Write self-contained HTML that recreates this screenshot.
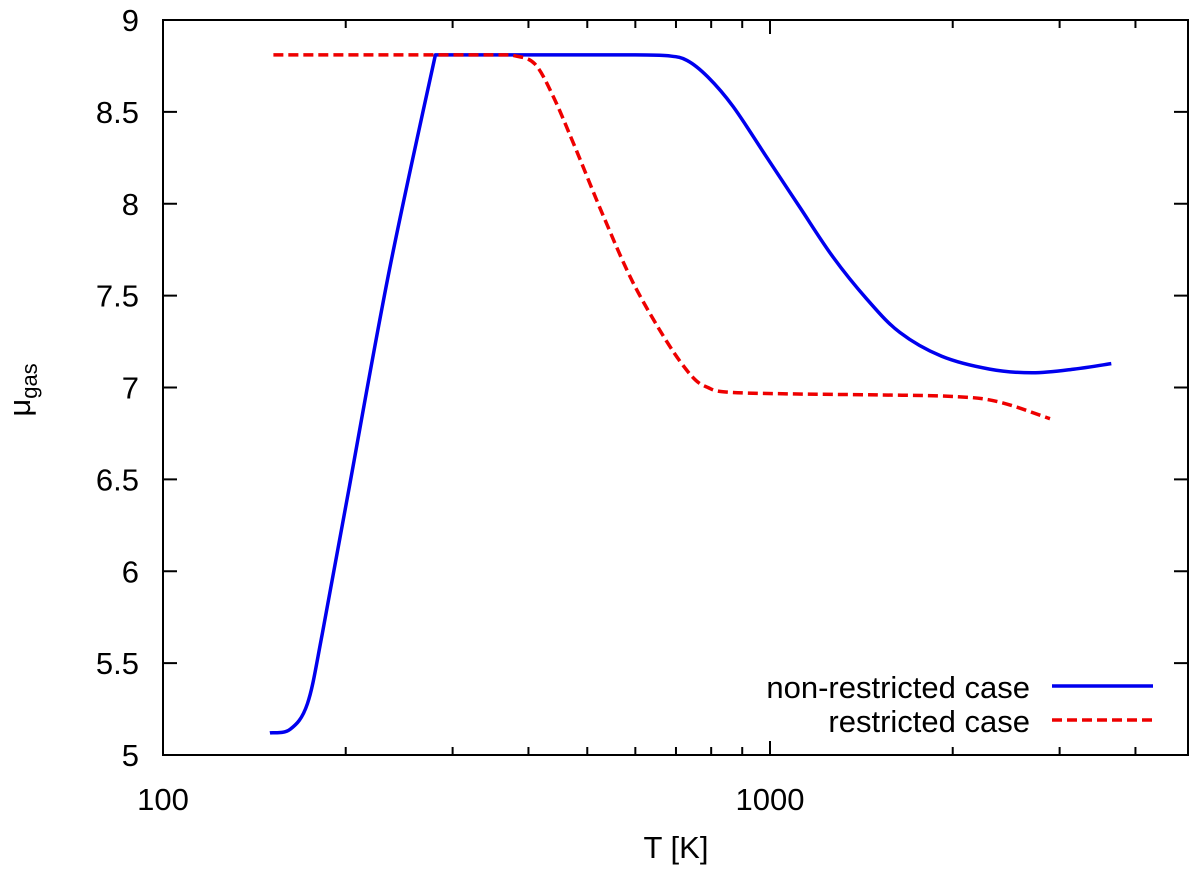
<!DOCTYPE html>
<html><head><meta charset="utf-8"><style>
body{margin:0;background:#fff}
svg text{font-family:"Liberation Sans",sans-serif;font-size:31px;fill:#000}
</style></head><body>
<svg width="1200" height="867">
<g id="axes"></g><g id="series"></g>
</svg>
<script>
const xTicks=[100,1000];
const yTicks=[5,5.5,6,6.5,7,7.5,8,8.5,9];
const blueT=[150,162,173,183,203,236,281,400,600,680,730,790,869,989,1120,1270,1445,1636,1918,2300,2705,3170,3650];
const blueMu=[5.12,5.14,5.28,5.66,6.47,7.64,8.81,8.81,8.81,8.805,8.78,8.69,8.53,8.25,7.98,7.71,7.48,7.30,7.17,7.10,7.08,7.10,7.13];
const redT=[152,250,350,380,410,440,477,532,595,676,744,790,850,1086,1500,2040,2393,2893];
const redMu=[8.81,8.81,8.81,8.805,8.76,8.58,8.31,7.93,7.57,7.25,7.06,7.0,6.975,6.965,6.96,6.95,6.92,6.83];
const L=163,R=1188,T=20,B=755;
const X=v=>L+607*(Math.log10(v)-2);
const Y=v=>B-(v-5)/4*(B-T);
const ns="http://www.w3.org/2000/svg";
function mk(tag,attrs,parent,txt){const e=document.createElementNS(ns,tag);for(const k in attrs)e.setAttribute(k,attrs[k]);if(txt)e.textContent=txt;document.getElementById(parent).appendChild(e);return e;}
const ax=mk('rect',{x:L,y:T,width:R-L,height:B-T,fill:'none',stroke:'#000','stroke-width':2},'axes');


yTicks.forEach(v=>{
 const t=mk('line',{x1:L,x2:L+14,y1:Y(v),y2:Y(v),stroke:'#000','stroke-width':2},'axes');
 
 const t2=mk('line',{x1:R,x2:R-14,y1:Y(v),y2:Y(v),stroke:'#000','stroke-width':2},'axes');
 
 const l=mk('text',{x:L-24,y:Y(v)+11,'text-anchor':'end'},'axes',String(v));
 
});
for(let d=100;d<=1000;d*=10){for(let m=1;m<10;m++){const v=d*m;const x=X(v);if(x>R)continue;const major=m==1;
 const t=mk('line',{x1:x,x2:x,y1:B,y2:B-(major?14:8),stroke:'#000','stroke-width':2},'axes');
 
 const t2=mk('line',{x1:x,x2:x,y1:T,y2:T+(major?14:8),stroke:'#000','stroke-width':2},'axes');
 }}
xTicks.forEach(v=>{const l=mk('text',{x:X(v),y:B+55,'text-anchor':'middle'},'axes',String(v));
 });
const xt=mk('text',{x:676,y:858,'text-anchor':'middle'},'axes','T [K]');

const yt=mk('text',{transform:'translate(30,390) rotate(-90)','text-anchor':'middle'},'axes','');

yt.innerHTML='μ<tspan dy="7" font-size="22">gas</tspan>';
function spline(p){
 let d='';
 for(let i=0;i<p.length-1;i++){const p0=p[Math.max(i-1,0)],p1=p[i],p2=p[i+1],p3=p[Math.min(i+2,p.length-1)];
  const c1=[p1[0]+(p2[0]-p0[0])/6,p1[1]+(p2[1]-p0[1])/6],c2=[p2[0]-(p3[0]-p1[0])/6,p2[1]-(p3[1]-p1[1])/6];
  d+=' C'+c1.map(n=>n.toFixed(1)).join(' ')+' '+c2.map(n=>n.toFixed(1)).join(' ')+' '+p2[0].toFixed(1)+' '+p2[1].toFixed(1);}
 return d;}
function line(ts,ms,color,dash,name,corner){
 const p=ts.map((t,i)=>[X(t),Y(ms[i])]);
 let d='M'+p[0][0].toFixed(1)+' '+p[0][1].toFixed(1);
 if(corner!=null){d+=spline(p.slice(0,corner+1))+spline(p.slice(corner));}
 else d+=spline(p);
 const e=mk('path',{d:d,fill:'none',stroke:color,'stroke-width':3.5,'stroke-dasharray':dash||'none','stroke-linejoin':'round'},'series');
 }
line(blueT,blueMu,'#0000ee',null,'non-restricted-line',blueMu.indexOf(Math.max(...blueMu)));
line(redT,redMu,'#ee0000','10,5','restricted-line',null);
const le1=mk('text',{x:1030,y:698,'text-anchor':'end'},'series','non-restricted case');

const ll1=mk('line',{x1:1052,x2:1153,y1:686,y2:686,stroke:'#0000ee','stroke-width':3.5},'series');

const le2=mk('text',{x:1030,y:732,'text-anchor':'end'},'series','restricted case');

const ll2=mk('line',{x1:1052,x2:1153,y1:720,y2:720,stroke:'#ee0000','stroke-width':3.5,'stroke-dasharray':'10,5'},'series');

</script>
</body></html>
